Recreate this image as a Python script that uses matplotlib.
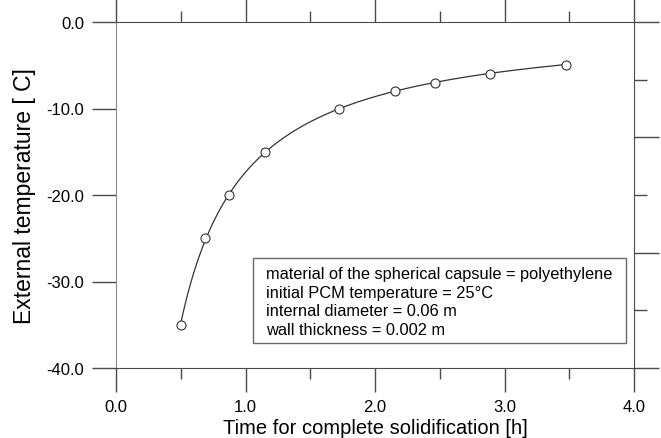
import numpy as np
import matplotlib.pyplot as plt
from matplotlib.patches import Rectangle

plt.rcParams['font.family'] = ['Liberation Sans', 'DejaVu Sans']

# freezing time of the capsule vs. external temperature
time_h = [0.5, 0.69, 0.87, 1.15, 1.72, 2.155, 2.46, 2.885, 3.475]
temp_c = [-35.0, -25.0, -20.0, -15.0, -10.0, -8.0, -7.0, -6.0, -5.0]

x_ticks = [0.0, 1.0, 2.0, 3.0, 4.0]
y_ticks = [0.0, -10.0, -20.0, -30.0, -40.0]

info_lines = [
    "material of the spherical capsule = polyethylene",
    "initial PCM temperature = 25\u00b0C",
    "internal diameter = 0.06 m",
    "wall thickness = 0.002 m",
]

line_col = '#4a4a4a'

fig = plt.figure(figsize=(6.61, 4.39), dpi=100)
ax = fig.add_axes([116 / 661, 1 - 369 / 439, 518 / 661, 346 / 439])

# smooth trend T = a + b/t fitted through the points
t = np.array(time_h)
T = np.array(temp_c)
b, a = np.polyfit(1.0 / t, T, 1)
tt = np.linspace(t.min(), t.max(), 300)
ax.plot(tt, a + b / tt, color='#333333', lw=0.9, zorder=3)
ax.plot(t, T, 'o', ms=6.5, mfc='white', mec='#333333', mew=0.8, zorder=4)

ax.set_xlim(0, 4)
ax.set_ylim(-40, 0)

ax.set_xticks(x_ticks)
ax.set_xticklabels([f"{v:.1f}" for v in x_ticks])
ax.set_xticks(np.arange(0.5, 4, 1.0), minor=True)
ax.set_yticks(y_ticks)
ax.set_yticklabels([f"{v:.1f}" for v in y_ticks])

ax.tick_params(axis='x', which='major', direction='out', length=17, width=1,
               top=True, bottom=True, color=line_col, labelsize=12, pad=5)
ax.tick_params(axis='x', which='minor', direction='out', length=8, width=1,
               top=True, bottom=True, color=line_col)
ax.tick_params(axis='y', which='major', direction='out', length=17, width=1,
               left=True, right=False, color=line_col, labelsize=12, pad=6)

for side in ['top', 'bottom', 'right']:
    ax.spines[side].set_color(line_col)
ax.spines['left'].set_color('#8a8a8a')

# second scale on the right: unlabeled ticks only
ax2 = ax.twinx()
ax2.set_ylim(-40, 0)
right_pos = np.linspace(0, -40, 7)
ax2.set_yticks(right_pos[::2])
ax2.set_yticks(right_pos[1::2], minor=True)
ax2.set_yticklabels([])
ax2.tick_params(axis='y', which='major', direction='out', length=18, width=1,
                color=line_col)
ax2.tick_params(axis='y', which='minor', direction='out', length=9, width=1,
                color=line_col)
for s in ax2.spines.values():
    s.set_visible(False)

ax.set_xlabel("Time for complete solidification [h]", fontsize=14.5, labelpad=3)
ax.set_ylabel("External temperature [ C]", fontsize=16.5, labelpad=7)

# parameter box
bx0, by0 = 1.058, -37.1
bx1, by1 = 3.938, -27.3
ax.add_patch(Rectangle((bx0, by0), bx1 - bx0, by1 - by0, fill=False,
                       ec='#6a6a6a', lw=1, zorder=5))
for i, line in enumerate(info_lines):
    ax.text(1.16, -29.13 - 2.13 * i, line, fontsize=11.8,
            va='center', ha='left', color='black', zorder=6)

fig.savefig('out.png', dpi=100)
